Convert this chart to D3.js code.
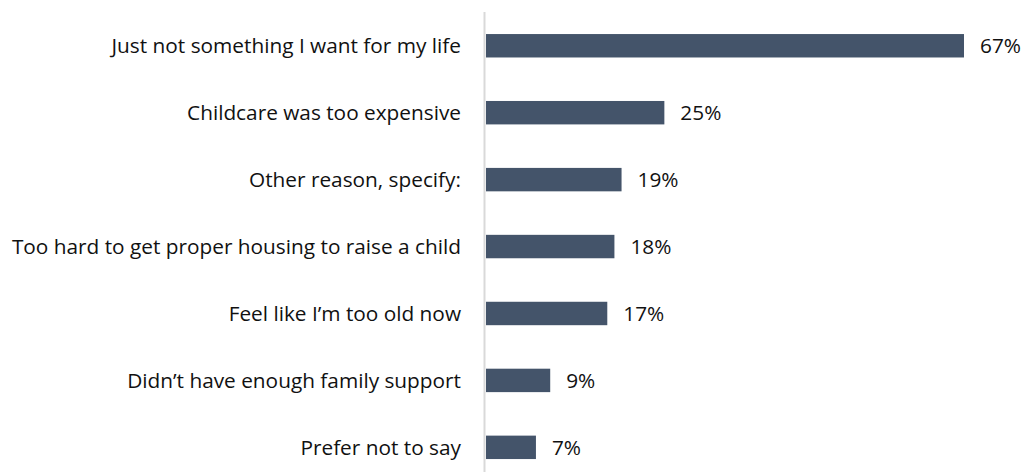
<!DOCTYPE html>
<html>
<head>
<meta charset="utf-8">
<script src="https://cdn.jsdelivr.net/npm/d3@7"></script>
<style>
  html, body { margin: 0; padding: 0; background: #ffffff; }
  svg { display: block; }
  text { font-family: "Open Sans", "Noto Sans", sans-serif; fill: #111111; }
</style>
</head>
<body>
<svg id="chart" width="1026" height="472"></svg>
<script>
// Reasons given, top to bottom
const categories = [
  "Just not something I want for my life",
  "Childcare was too expensive",
  "Other reason, specify:",
  "Too hard to get proper housing to raise a child",
  "Feel like I\u2019m too old now",
  "Didn\u2019t have enough family support",
  "Prefer not to say"
];
const values = [67, 25, 19, 18, 17, 9, 7];
const valueLabels = ["67%", "25%", "19%", "18%", "17%", "9%", "7%"];

const svg = d3.select("#chart");
const x0 = 486;

const x = d3.scaleLinear().domain([0, 67]).range([x0, 964]);
const y = d3.scaleBand().domain(categories).range([12.3, 480.8]).paddingInner(0.65).paddingOuter(0.325);

const fontSize = 20.8;

// vertical baseline
svg.append("line")
  .attr("x1", x0 - 1.5).attr("x2", x0 - 1.5)
  .attr("y1", 12).attr("y2", 472)
  .attr("stroke", "#d9d9d9").attr("stroke-width", 2);

svg.selectAll("rect.bar")
  .data(values)
  .join("rect")
  .attr("class", "bar")
  .attr("x", x(0))
  .attr("y", (d, i) => y(categories[i]))
  .attr("width", d => x(d) - x(0))
  .attr("height", y.bandwidth())
  .attr("fill", "#44546a");

svg.selectAll("text.cat")
  .data(categories)
  .join("text")
  .attr("class", "cat")
  .attr("x", 461)
  .attr("y", d => y(d) + y.bandwidth() / 2)
  .attr("dy", "0.36em")
  .attr("text-anchor", "end")
  .attr("font-size", fontSize)
  .text(d => d);

svg.selectAll("text.val")
  .data(values)
  .join("text")
  .attr("class", "val")
  .attr("x", d => x(d) + 16)
  .attr("y", (d, i) => y(categories[i]) + y.bandwidth() / 2)
  .attr("dy", "0.36em")
  .attr("font-size", fontSize)
  .text((d, i) => valueLabels[i]);
</script>
</body>
</html>
